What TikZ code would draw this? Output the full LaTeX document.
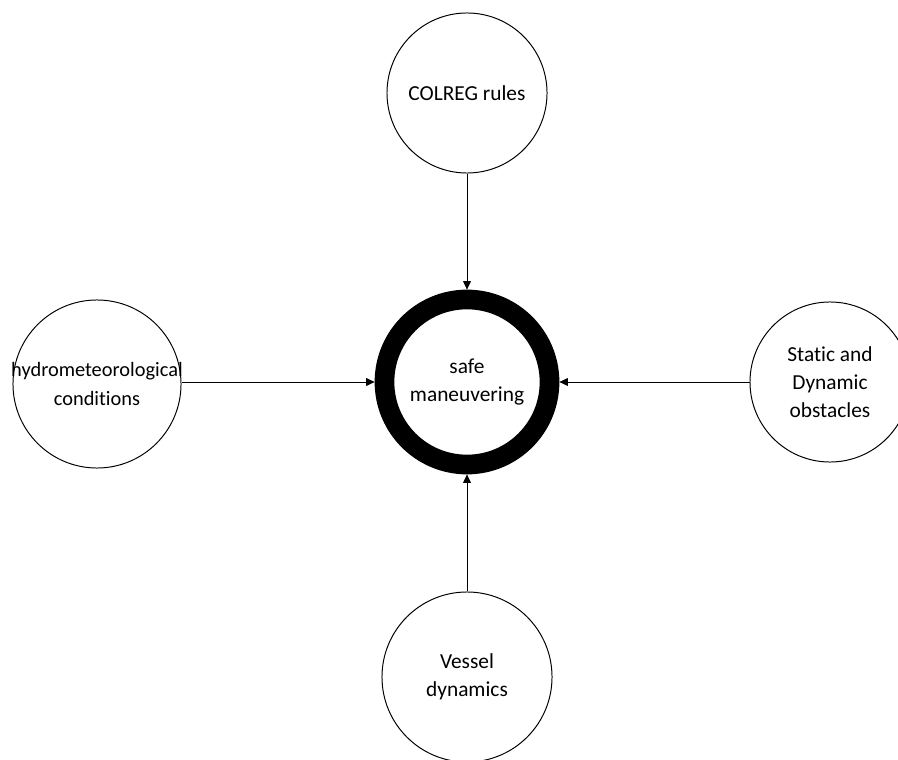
\documentclass[tikz,border=0pt]{standalone}
\usepackage{fontspec}
\setmainfont{Carlito}[Ligatures=NoCommon]
\usetikzlibrary{arrows.meta}

\begin{document}
\begin{tikzpicture}[x=0.025cm, y=-0.025cm, line width=0.7pt,
	factor/.style={draw, circle, inner sep=0pt, align=center,
		font=\fontsize{15.2}{20}\selectfont},
	goal/.style={draw, circle, inner sep=0pt, align=center, line width=14pt,
		minimum size=4.125cm, font=\fontsize{15.2}{20}\selectfont},
	inside/.style={align=center, inner sep=0pt,
		font=\fontsize{14.5}{20}\selectfont},
	feed/.style={-{Triangle[length=6pt, width=5.5pt]}}]
	\clip (0,0) rectangle (898,760);

	\node (safe) at (467,382) [goal] {safe\\maneuvering};

	\node (colreg) at (467,93) [factor, minimum size=4cm] {COLREG rules};
	% text wider than the circle, so it goes in as a centred label
	\node (hydro) at (97,384) [factor, minimum size=4.2cm,
		label={[inside]center:hydrometeorological\\conditions}] {};
	\node (obst) at (830,382) [factor, minimum size=4cm]
		{Static and\\Dynamic\\obstacles};
	\node (vessel) at (467,677) [factor, minimum size=4.25cm]
		{Vessel\\dynamics};

	\draw[feed] (colreg) -- (safe);
	\draw[feed] (hydro.east |- safe) -- (safe);
	\draw[feed] (obst.west |- safe) -- (safe);
	\draw[feed] (vessel) -- (safe);

\end{tikzpicture}
\end{document}
